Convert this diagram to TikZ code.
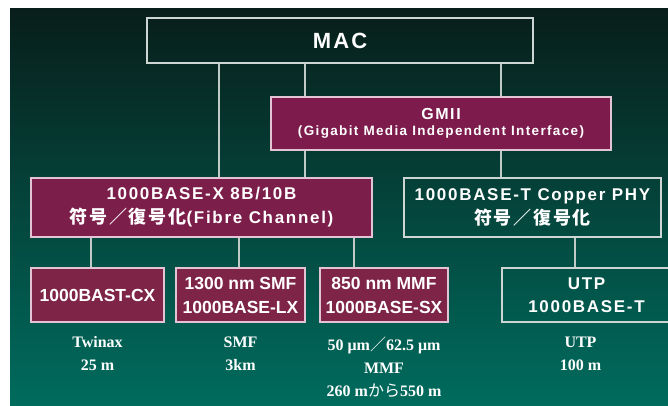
\documentclass[tikz,border=0pt]{standalone}
\usepackage{fontspec}
\setmainfont{Liberation Serif}
\newfontfamily\boxsans[LetterSpace=10]{Liberation Sans}
\newfontfamily\plainsans{Liberation Sans}
\newfontfamily\cjk[LetterSpace=10]{Noto Sans CJK JP}
\newfontfamily\cjkplain{Noto Sans CJK JP}
\usepackage{tikz}
\usetikzlibrary{positioning}

\definecolor{bgtop}{RGB}{8,30,26}
\definecolor{bgmid}{RGB}{5,76,64}
\definecolor{bgbot}{RGB}{0,108,94}
\definecolor{gmiired}{RGB}{124,27,76}
\definecolor{phyred}{RGB}{124,30,74}
\definecolor{pmdred}{RGB}{126,36,70}
\definecolor{edgepink}{RGB}{226,196,212}
\definecolor{edgegray}{RGB}{205,214,210}
\definecolor{linegray}{RGB}{192,202,198}

\tikzset{
  openbox/.style={rectangle, draw=edgegray, line width=1.2pt, inner sep=0pt, text=white, align=center},
  redbox/.style={openbox, draw=edgepink, fill=#1},
  link/.style={draw=linegray, line width=1.5pt},
  medium/.style={text=white, align=center, inner sep=0pt, font=\bfseries\fontsize{16}{23}\selectfont}
}

\begin{document}
\begin{tikzpicture}[x=1pt, y=-1pt]
    \useasboundingbox (0,0) rectangle (668,406);
    \fill[white] (0,0) rectangle (668,406);
    \shade[top color=bgtop, middle color=bgmid, bottom color=bgbot] (10,9) rectangle (668,406);

    \node (mac) [openbox, minimum width=386pt, minimum height=45pt, font=\boxsans\bfseries\fontsize{22}{26}\selectfont] at (340,40.5) {MAC};
    \node (gmii) [redbox=gmiired, minimum width=340pt, minimum height=53pt, font=\boxsans\bfseries] at (441,123.5) {{\fontsize{16}{20}\selectfont GMII}\\[4pt]{\fontsize{13.5}{17}\selectfont (Gigabit Media Independent Interface)}};

    \node (fx) [redbox=phyred, minimum width=341pt, minimum height=59pt, font=\boxsans\bfseries\fontsize{17}{24}\selectfont] at (201.5,207.5) {1000BASE-X 8B/10B\\{\cjk\bfseries\fontsize{18}{24}\selectfont 符号／復号化}(Fibre Channel)};
    \node (ft) [openbox, minimum width=257pt, minimum height=59pt, font=\boxsans\bfseries\fontsize{17}{24}\selectfont] at (532.5,207.5) {1000BASE-T Copper PHY\\{\cjk\bfseries\fontsize{18}{24}\selectfont 符号／復号化}};

    \node (cx) [redbox=pmdred, minimum width=133pt, minimum height=54pt, font=\plainsans\bfseries\fontsize{17.5}{24}\selectfont] at (97.5,295) {1000BAST-CX};
    \node (lx) [redbox=pmdred, minimum width=129pt, minimum height=54pt, font=\plainsans\bfseries\fontsize{17.5}{24}\selectfont] at (240.5,295) {1300 nm SMF\\1000BASE-LX};
    \node (sx) [redbox=pmdred, minimum width=128pt, minimum height=54pt, font=\plainsans\bfseries\fontsize{17.5}{24}\selectfont] at (384,295) {850 nm MMF\\1000BASE-SX};
    \node (utp) [openbox, minimum width=169pt, minimum height=54pt, font=\boxsans\bfseries\fontsize{17}{23}\selectfont] at (586.5,295) {UTP\\1000BASE-T};

    \node (cxlen) [medium, below=14pt of cx] {Twinax\\25 m};
    \node (lxlen) [medium, below=14pt of lx] {SMF\\3km};
    \node (sxlen) [medium, below=14pt of sx] {50 μm{\cjkplain\mdseries ／}62.5 μm\\MMF\\260 m{\cjkplain\mdseries から}550 m};
    \node (utplen) [medium, below=14pt of utp, xshift=-6pt] {UTP\\100 m};

    \draw [link] (mac.south -| 219,0) -- (fx.north -| 219,0);
    \draw [link] (mac.south -| 305,0) -- (gmii.north -| 305,0);
    \draw [link] (mac.south -| 501,0) -- (gmii.north -| 501,0);
    \draw [link] (gmii.south -| 305,0) -- (fx.north -| 305,0);
    \draw [link] (gmii.south -| 501,0) -- (ft.north -| 501,0);
    \draw [link] (fx.south -| 91,0) -- (cx.north -| 91,0);
    \draw [link] (fx.south -| 239,0) -- (lx.north -| 239,0);
    \draw [link] (fx.south -| 354,0) -- (sx.north -| 354,0);
    \draw [link] (ft.south -| 575,0) -- (utp.north -| 575,0);
\end{tikzpicture}
\end{document}
